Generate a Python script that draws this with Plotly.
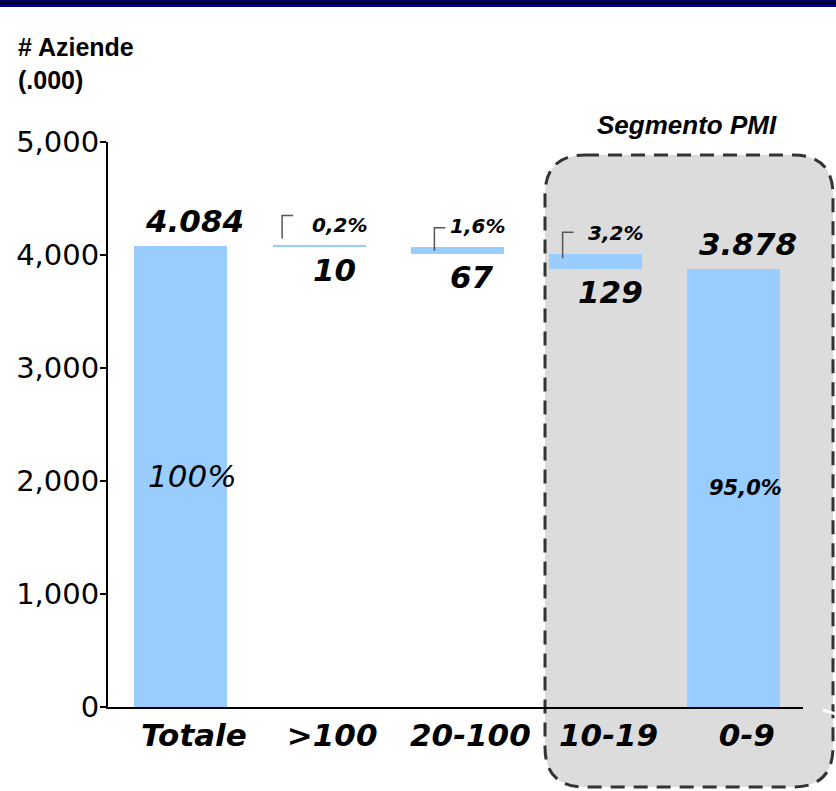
import plotly.graph_objects as go

# Numero di aziende (migliaia) per classe di addetti
categories = ["Totale", ">100", "20-100", "10-19", "0-9"]
values = [4084, 10, 67, 129, 3878]
shares = ["100%", "0,2%", "1,6%", "3,2%", "95,0%"]
y_ticks = [0, 1000, 2000, 3000, 4000, 5000]

BAR_COLOR = "#99ccff"
W, H = 836, 791
L, R, T, B = 108, 33, 142, 84

# Waterfall: totale e ultima classe partono da zero, le altre scendono dal totale
xs = list(range(len(categories)))
bases, tops = [], []
level = values[0]
for i, v in enumerate(values):
    if i == 0 or i == len(values) - 1:
        bases.append(0)
        tops.append(v)
    else:
        tops.append(level)
        level -= v
        bases.append(level)

fig = go.Figure()
fig.add_trace(go.Bar(
    x=xs, y=values, base=bases, width=0.673,
    marker=dict(color=BAR_COLOR, line=dict(width=0)),
    hoverinfo="skip",
))

def fmt_it(v):
    return f"{v:,}".replace(",", ".")

BIG = dict(family="DejaVu Sans", size=31, color="black", weight="bold", style="italic")
SMALL = dict(family="DejaVu Sans", size=20, color="black", weight="bold", style="italic")

ann = []
shapes = []
last = len(values) - 1
# offsets (px) of the small leader brackets next to the percentage labels
bracket = {1: (-37, 30, 7), 2: (-23, 19, -4), 3: (-33, 22, -4)}
for i, v in enumerate(values):
    if i == 0 or i == last:
        ann.append(dict(x=xs[i], y=tops[i], text=fmt_it(v), showarrow=False,
                        xshift=14, yshift=25, yanchor="middle", font=BIG))
        share_font = (dict(family="DejaVu Sans", size=31, color="black", style="italic")
                      if i == 0 else dict(SMALL, size=21))
        ann.append(dict(x=xs[i], y=bases[i] + v / 2, text=shares[i], showarrow=False,
                        xshift=12, yshift=0, yanchor="middle", font=share_font))
    else:
        ann.append(dict(x=xs[i], y=bases[i], text=fmt_it(v), showarrow=False,
                        xshift=15, yshift=-23, yanchor="middle", font=BIG))
        ann.append(dict(x=xs[i], y=tops[i], text=shares[i], showarrow=False,
                        xshift=20, yshift=21, yanchor="middle", font=SMALL))
        dx, ytop, ybot = bracket[i]
        shapes.append(dict(
            type="path", xref="x", yref="y", xsizemode="pixel", ysizemode="pixel",
            xanchor=xs[i], yanchor=tops[i],
            path=f"M{dx},{ybot} L{dx},{ytop} L{dx + 11},{ytop}",
            line=dict(color="#555555", width=1.5), layer="above",
        ))

# pixel -> paper helpers
def px(x):
    return (x - L) / (W - L - R)

def py(y):
    return (H - B - y) / (H - T - B)

# Riquadro "Segmento PMI" con angoli arrotondati
x0, x1, y0, y1, r = 545, 833, 155, 787, 40
p = (f"M{px(x0 + r)},{py(y0)} L{px(x1 - r)},{py(y0)} "
     f"Q{px(x1)},{py(y0)} {px(x1)},{py(y0 + r)} L{px(x1)},{py(y1 - r)} "
     f"Q{px(x1)},{py(y1)} {px(x1 - r)},{py(y1)} L{px(x0 + r)},{py(y1)} "
     f"Q{px(x0)},{py(y1)} {px(x0)},{py(y1 - r)} L{px(x0)},{py(y0 + r)} "
     f"Q{px(x0)},{py(y0)} {px(x0 + r)},{py(y0)} Z")
shapes.append(dict(type="path", xref="paper", yref="paper", path=p,
                   fillcolor="#dcdcdc", line=dict(color="#333333", width=3, dash="14px,9px"),
                   layer="below"))

# fascia scura in testa alla pagina
for (ya, yb, col) in [(0, 7, "#000080"), (1, 4, "#000000")]:
    shapes.append(dict(type="rect", xref="paper", yref="paper",
                       x0=px(0), x1=px(W), y0=py(yb), y1=py(ya),
                       fillcolor=col, line=dict(width=0), layer="above"))

# piccolo segno bianco sul bordo destro
shapes.append(dict(type="line", xref="paper", yref="paper",
                   x0=px(823), y0=py(710), x1=px(836), y1=py(714),
                   line=dict(color="white", width=3), layer="above"))

ann.append(dict(xref="paper", yref="paper", x=px(16), y=py(31), xanchor="left", yanchor="top",
                align="left", showarrow=False, text="# Aziende<br>(.000)",
                font=dict(family="Liberation Sans", size=25, color="black", weight="bold")))
ann.append(dict(xref="paper", yref="paper", x=px(687), y=py(125), xanchor="center", yanchor="middle",
                showarrow=False, text="Segmento PMI",
                font=dict(family="Liberation Sans", size=26, color="black", weight="bold", style="italic")))

fig.update_layout(
    width=W, height=H,
    margin=dict(l=L, r=R, t=T, b=B, pad=0),
    paper_bgcolor="white", plot_bgcolor="rgba(0,0,0,0)",
    showlegend=False, bargap=0,
    shapes=shapes, annotations=ann,
    xaxis=dict(range=[-0.527, 4.5], tickvals=xs, ticktext=categories,
               showline=True, linecolor="black", linewidth=2, ticks="",
               showgrid=False, zeroline=False, ticklabelshift=13,
               tickfont=dict(family="DejaVu Sans", size=31, color="black", weight="bold", style="italic")),
    yaxis=dict(range=[0, 5000], tickvals=y_ticks, tickformat=",d",
               showline=True, linecolor="black", linewidth=2, ticks="outside",
               ticklen=6, tickwidth=2, tickcolor="black", ticklabelstandoff=-5,
               showgrid=False, zeroline=False,
               tickfont=dict(family="DejaVu Sans", size=29, color="black")),
)

fig.write_html("out.html")
